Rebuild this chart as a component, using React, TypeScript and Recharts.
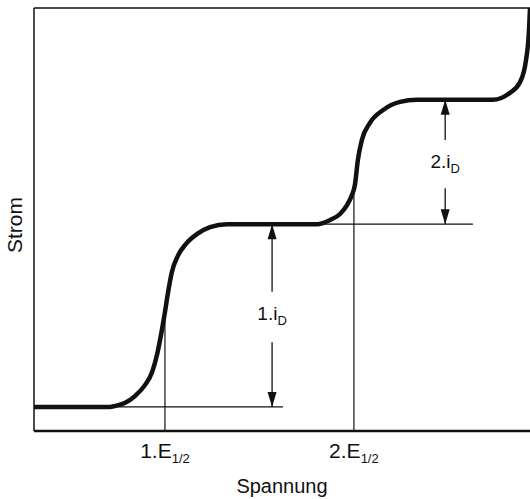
import { Label, Line, LineChart, ReferenceDot, ReferenceLine, XAxis, YAxis } from 'recharts';

// polarogram (arbitrary units, 0..100 on both axes)
const spannung = [
  0, 10, 15.3, 16.3, 18.3, 20.4, 22.4, 23.8, 24.8, 25.6, 26.4, 27.0, 27.8, 29.0, 30.6, 32.9, 35.5, 38.9, 45,
  57.1, 59.7, 61.7, 63.1, 64.1, 64.7, 65.3, 66.1, 67.7, 70.4, 73.8, 77.2, 85, 92.5, 95.9, 98.0, 99.2, 99.8, 100,
];
const strom = [
  5.7, 5.7, 5.7, 5.9, 6.6, 8.3, 10.9, 13.9, 18.0, 22.7, 28.1, 32.6, 37.6, 41.4, 44.2, 46.6, 48.2, 48.9, 48.9,
  48.9, 49.9, 51.3, 53.4, 55.8, 58.2, 64.1, 68.8, 72.8, 75.9, 77.8, 78.3, 78.3, 78.3, 79.9, 82.5, 87.7, 94.8, 100,
];

// half-wave potentials and their tick labels
const halfWave = [26.4, 64.5];
const halfWaveStrom = [28, 57];
const tickLabels = [
  ['1.E', '1/2'],
  ['2.E', '1/2'],
];

// base / plateau levels
const grund = 5.7;
const plateau1 = 48.9;
const plateau2 = 78.3;

// diffusion current arrows: x, from, to, gap bottom, gap top, label baseline
const arrowX = [48, 82.9];
const arrowLow = [grund, plateau1];
const arrowHigh = [plateau1, plateau2];
const gapLow = [21, 57.4];
const gapHigh = [32.9, 68.8];
const arrowLabelY = [26.2, 62.2];
const arrowLabels = ['1.i', '2.i'];

const data = spannung.map((x, i) => ({ x, y: strom[i] }));
const FONT = '"Liberation Sans", Arial, Helvetica, sans-serif';

const ETick = (props: any) => {
  const { x, y, index } = props;
  const [main, sub] = tickLabels[index] ?? ['', ''];
  return (
    <text x={x} y={y + 27} textAnchor="middle" fontFamily={FONT} fontSize={21} fill="#111">
      <tspan>{main}</tspan>
      <tspan dy={5} fontSize={13}>
        {sub}
      </tspan>
    </text>
  );
};

const arrowHead = (dir: 'up' | 'down') => (p: any) => {
  const { cx, cy } = p;
  const s = dir === 'up' ? 1 : -1;
  return (
    <polygon
      points={`${cx},${cy} ${cx - 4.5},${cy + s * 15} ${cx + 4.5},${cy + s * 15}`}
      fill="#111"
    />
  );
};

const iLabel = (text: string) => (p: any) => (
  <text x={p.cx} y={p.cy} textAnchor="middle" fontFamily={FONT} fontSize={19} fill="#111">
    <tspan>{text}</tspan>
    <tspan dy={5} fontSize={13}>
      D
    </tspan>
  </text>
);

export default function App() {
  return (
    <div style={{ position: 'absolute', left: 0, top: 0, background: '#fff' }}>
      <LineChart width={530} height={499} data={data} margin={{ top: 8, right: 0, left: 0, bottom: 0 }}>
        <XAxis
          type="number"
          dataKey="x"
          domain={[0, 100]}
          ticks={halfWave}
          tick={<ETick />}
          tickLine={false}
          tickSize={0}
          tickMargin={0}
          height={68}
          axisLine={{ stroke: '#111', strokeWidth: 2.5 }}
          interval={0}
        >
          <Label
            content={() => (
              <text x={282} y={493} textAnchor="middle" fontFamily={FONT} fontSize={20} fill="#111">
                Spannung
              </text>
            )}
          />
        </XAxis>
        <YAxis
          type="number"
          domain={[0, 100]}
          width={34}
          tick={false}
          tickLine={false}
          axisLine={{ stroke: '#111', strokeWidth: 1.5 }}
        >
          <Label
            content={() => (
              <text
                x={22}
                y={225}
                textAnchor="middle"
                fontFamily={FONT}
                fontSize={21}
                fill="#111"
                transform="rotate(-90, 22, 225)"
              >
                Strom
              </text>
            )}
          />
        </YAxis>

        <ReferenceLine y={100} stroke="#111" strokeWidth={1.5} />

        <ReferenceLine segment={[{ x: 0, y: grund }, { x: 50.2, y: grund }]} stroke="#111" strokeWidth={1.2} />
        <ReferenceLine segment={[{ x: 55, y: plateau1 }, { x: 88.5, y: plateau1 }]} stroke="#111" strokeWidth={1.2} />
        {halfWave.map((x, i) => (
          <ReferenceLine
            key={'v' + i}
            segment={[{ x, y: 0 }, { x, y: halfWaveStrom[i] }]}
            stroke="#111"
            strokeWidth={1.2}
          />
        ))}

        {arrowX.map((x, i) => (
          <ReferenceLine
            key={'a' + i}
            segment={[{ x, y: arrowHigh[i] }, { x, y: gapHigh[i] }]}
            stroke="#111"
            strokeWidth={1.3}
          />
        ))}
        {arrowX.map((x, i) => (
          <ReferenceLine
            key={'b' + i}
            segment={[{ x, y: gapLow[i] }, { x, y: arrowLow[i] }]}
            stroke="#111"
            strokeWidth={1.3}
          />
        ))}
        {arrowX.map((x, i) => (
          <ReferenceDot key={'u' + i} x={x} y={arrowHigh[i]} shape={arrowHead('up')} />
        ))}
        {arrowX.map((x, i) => (
          <ReferenceDot key={'d' + i} x={x} y={arrowLow[i]} shape={arrowHead('down')} />
        ))}
        {arrowX.map((x, i) => (
          <ReferenceDot key={'l' + i} x={x} y={arrowLabelY[i]} shape={iLabel(arrowLabels[i])} />
        ))}

        <Line
          type="monotone"
          dataKey="y"
          stroke="#111"
          strokeWidth={4.5}
          dot={false}
          isAnimationActive={false}
        />
      </LineChart>
    </div>
  );
}
